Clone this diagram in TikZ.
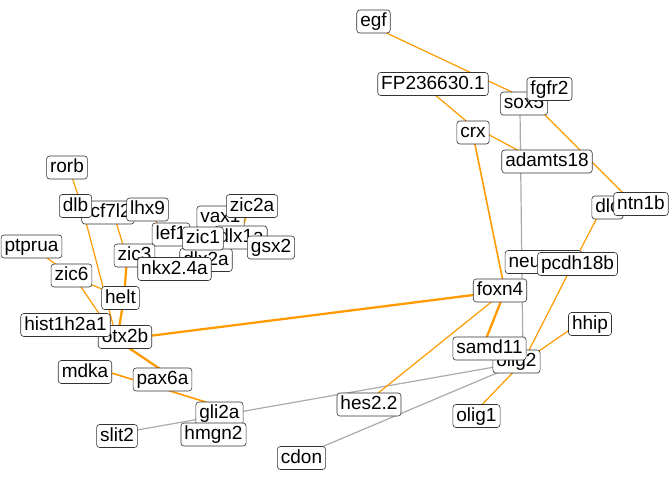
\documentclass[tikz,border=0pt]{standalone}
\usepackage{fontspec}
\setmainfont{Liberation Sans}
\definecolor{edgeorange}{RGB}{255,155,0}
\definecolor{edgegray}{RGB}{170,170,170}

\begin{document}
\begin{tikzpicture}
	[x=1pt,y=-1pt,
		gene node/.style={draw=black!80,line width=0.6pt,fill=white,rounded corners=3pt,inner xsep=3.5pt,inner ysep=2.5pt,text height=14pt,text depth=4pt,font=\fontsize{19}{22}\selectfont},
		up edge/.style={draw=edgeorange,line width=1.2pt},
		mid edge/.style={draw=edgeorange,line width=1.6pt},
		strong edge/.style={draw=edgeorange,line width=2.3pt},
		down edge/.style={draw=edgegray,line width=1.2pt}]

	\useasboundingbox (0,0) rectangle (672,480);

	% layout points of the graph
	\coordinate (egf) at (378,29);
	\coordinate (FP) at (428,89);
	\coordinate (sox5) at (531,101);
	\coordinate (fgfr2) at (520,110);
	\coordinate (crx) at (471,125);
	\coordinate (adamts18) at (521,152);
	\coordinate (dlc) at (602,208);
	\coordinate (ntn1b) at (630,200);
	\coordinate (pcdh18b) at (573,264);
	\coordinate (foxn4) at (505,291);
	\coordinate (hhip) at (584,320);
	\coordinate (samd11) at (484,344);
	\coordinate (olig2) at (523,362);
	\coordinate (olig1) at (474,413);
	\coordinate (hes22) at (367,402);
	\coordinate (cdon) at (305,454);
	\coordinate (slit2) at (120,433);
	\coordinate (gli2a) at (222,407);
	\coordinate (pax6a) at (172,377);
	\coordinate (mdka) at (92,367);
	\coordinate (otx2b) at (117,340);
	\coordinate (helt) at (124,298);
	\coordinate (zic6) at (75,278);
	\coordinate (ptprua) at (33,248);
	\coordinate (rorb) at (69,168);
	\coordinate (dlb) at (82,207);
	\coordinate (tcf7l2) at (113,212);
	\coordinate (lhx9) at (153,212);
	\coordinate (zic3) at (127,258);
	\coordinate (lef1) at (160,232);
	\coordinate (zic2a) at (250,207);
	\coordinate (dlx1a) at (238,240);

	\path
	(fgfr2) edge [down edge] (olig2)
	(olig2) edge [down edge] (slit2)
	(olig2) edge [down edge] (cdon)
	(egf) edge [up edge] (sox5)
	(sox5) edge [up edge] (ntn1b)
	(FP) edge [up edge] (crx)
	(crx) edge [up edge] (adamts18)
	(crx) edge [mid edge] (foxn4)
	(foxn4) edge [strong edge] (samd11)
	(otx2b) edge [strong edge] (foxn4)
	(foxn4) edge [up edge] (hes22)
	(dlc) edge [up edge] (pcdh18b)
	(pcdh18b) edge [up edge] (olig2)
	(hhip) edge [up edge] (olig2)
	(olig2) edge [up edge] (olig1)
	(rorb) edge [up edge] (dlb)
	(dlb) edge [up edge] (otx2b)
	(tcf7l2) edge [up edge] (zic3)
	(zic3) edge [strong edge] (helt)
	(helt) edge [strong edge] (otx2b)
	(zic6) edge [up edge] (helt)
	(zic6) edge [up edge] (otx2b)
	(ptprua) edge [up edge] (zic6)
	(otx2b) edge [strong edge] (pax6a)
	(mdka) edge [mid edge] (gli2a)
	(lhx9) edge [up edge] (lef1)
	(zic2a) edge [up edge] (dlx1a)
	;

	% labels
	\node[gene node] (rorb-l) at (67,167.5) {rorb};
	\node[gene node] (ptprua-l) at (31.5,246.5) {ptprua};
	\node[gene node] (tcf7l2-l) at (108,212.5) {tcf7l2};
	\node[gene node] (dlb-l) at (75.5,206) {dlb};
	\node[gene node] (lhx9-l) at (147.5,209.5) {lhx9};
	\node[gene node] (zic6-l) at (71.5,275.5) {zic6};
	\node[gene node] (lef1-l) at (171,234.5) {lef1};
	\node[gene node] (vax1-l) at (220.5,217.5) {vax1};
	\node[gene node] (dlx2a-l) at (206,260) {dlx2a};
	\node[gene node] (dlx1a-l) at (241,237.5) {dlx1a};
	\node[gene node] (zic1-l) at (203,238.5) {zic1};
	\node[gene node] (zic2a-l) at (252,206) {zic2a};
	\node[gene node] (gsx2-l) at (271,247.5) {gsx2};
	\node[gene node] (zic3-l) at (134.5,255.5) {zic3};
	\node[gene node] (nkx24a-l) at (174.5,269) {nkx2.4a};
	\node[gene node] (helt-l) at (120.5,298) {helt};
	\node[gene node] (otx2b-l) at (125,337) {otx2b};
	\node[gene node] (hist-l) at (65.5,325) {hist1h2a1};
	\node[gene node] (mdka-l) at (85,372) {mdka};
	\node[gene node] (pax6a-l) at (162.5,379.5) {pax6a};
	\node[gene node] (gli2a-l) at (219.5,413.5) {gli2a};
	\node[gene node] (hmgn2-l) at (213.5,434.5) {hmgn2};
	\node[gene node] (slit2-l) at (117,436) {slit2};
	\node[gene node] (cdon-l) at (301.5,458) {cdon};
	\node[gene node] (hes22-l) at (369,404.5) {hes2.2};
	\node[gene node] (egf-l) at (373.5,21.5) {egf};
	\node[gene node] (FP-l) at (433,84) {FP236630.1};
	\node[gene node] (sox5-l) at (524,103.5) {sox5};
	\node[gene node] (fgfr2-l) at (549.5,89) {fgfr2};
	\node[gene node] (crx-l) at (473,132.5) {crx};
	\node[gene node] (adamts18-l) at (547,161.5) {adamts18};
	\node[gene node] (dlc-l) at (607.5,207.5) {dlc};
	\node[gene node] (ntn1b-l) at (641,204) {ntn1b};
	\node[gene node] (neurod4-l) at (543.5,262) {neurod4};
	\node[gene node] (pcdh18b-l) at (577.5,264) {pcdh18b};
	\node[gene node] (foxn4-l) at (500,290.5) {foxn4};
	\node[gene node] (hhip-l) at (590,324) {hhip};
	\node[gene node] (olig2-l) at (516.5,361.5) {olig2};
	\node[gene node] (samd11-l) at (489.5,348.5) {samd11};
	\node[gene node] (olig1-l) at (476.5,416) {olig1};

\end{tikzpicture}
\end{document}
